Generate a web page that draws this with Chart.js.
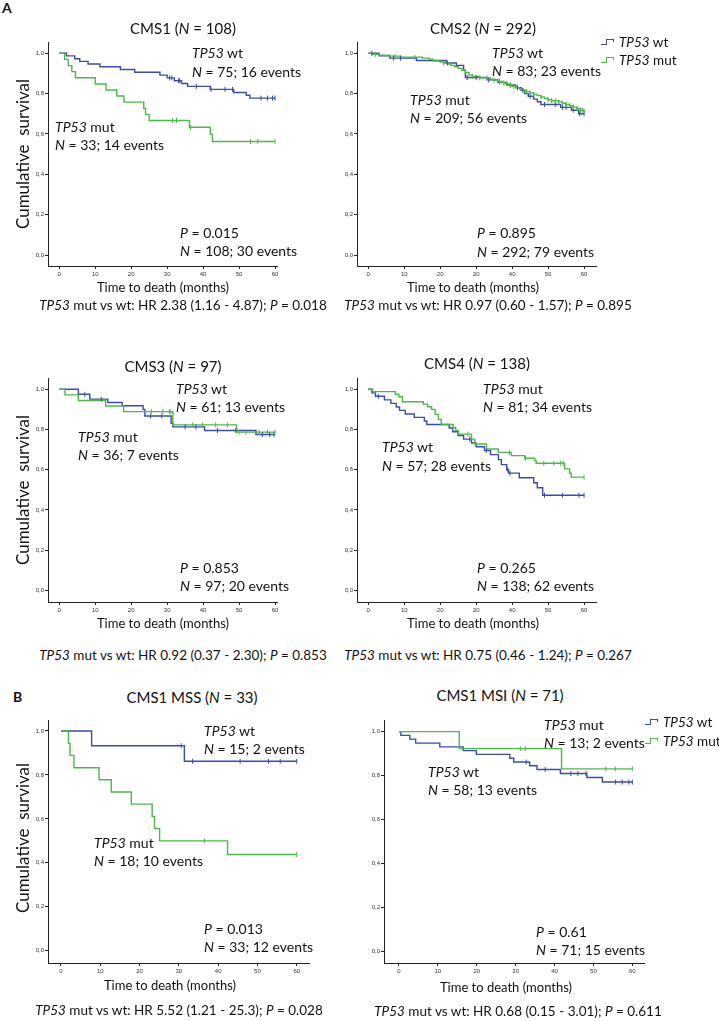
<!DOCTYPE html>
<html><head><meta charset="utf-8">
<script src="https://cdn.jsdelivr.net/npm/chart.js@4.4.1/dist/chart.umd.min.js"></script>
<style>
body{margin:0;background:#fff;}
#page{position:relative;width:719px;height:1021px;overflow:hidden;background:#fff;font-family:Lato,'Noto Sans',sans-serif;color:#111;}
canvas{position:absolute;}
.t{position:absolute;white-space:nowrap;line-height:1;}
.lm{transform:translateY(-50%);}
.cm{transform:translate(-50%,-50%);}
.rot{transform:translate(-50%,-50%) rotate(-90deg);}
.sym{position:absolute;width:14px;height:8px;}
.sym span{position:absolute;border-color:inherit;border-style:solid;border-width:0;}
</style>
</head><body><div id="page"></div>
<script>
// ---------- data ----------
const xTicks = [0,10,20,30,40,50,60];
const xTickLabels = ['0','10','20','30','40','50','60'];
const yTicks = [0,0.2,0.4,0.6,0.8,1.0];
const yTickLabels = ['0,0','0,2','0,4','0,6','0,8','1,0'];

// CMS1
const cms1WtTime  = [0,2,4.3,5.7,8,11.3,17,21,28,30,32,34,35.7,42,48.5,52,53,60];
const cms1WtSurv  = [1,.987,.973,.96,.947,.933,.92,.906,.892,.878,.864,.85,.836,.821,.806,.792,.778,.778];
const cms1WtCens  = [30.7,31.3,33.2,33.5,38.1,42.2,46.1,48.2,56.1,57.9,59.3,60];
const cms1MutTime = [0,1.5,2.5,3.5,4.5,10,13,16,18,23.5,24,25,36.2,42,42.6,60];
const cms1MutSurv = [1,.97,.939,.909,.879,.848,.818,.788,.758,.727,.697,.667,.633,.598,.563,.563];
const cms1MutCens = [31.5,32.6,36.5,53.2,55.2,60];
// CMS2
const cms2WtTime  = [0,3,6,13.4,21.7,24.5,26.5,27,33,36,38.5,41,42.5,43.5,44.5,46,47,48,53.5,56.5,58.5,60];
const cms2WtSurv  = [1,.988,.976,.964,.952,.94,.916,.88,.868,.856,.843,.83,.816,.80,.787,.773,.76,.746,.732,.718,.70,.70];
const cms2WtCens  = [1,7,9,22,27.5,30,33.5,36.5,39.5,41.5,43,45,49,52,54,55,57,58.8,60];
const cms2MutTime = [0,1,3,6,9,15,17,18,20,21,22,23,24,25,26,27,28,29,31,34,35,36,37,38,39,40,41,42,43,44,45,46,47,48,49,50,51,53,54,55,56,57,58,59,60];
const cms2MutSurv = [1,.995,.99,.986,.981,.976,.971,.962,.957,.952,.947,.94,.933,.925,.916,.905,.892,.885,.878,.872,.866,.86,.855,.849,.843,.836,.83,.823,.817,.81,.803,.796,.79,.783,.776,.77,.765,.759,.752,.746,.74,.733,.726,.718,.711];
const cms2MutCens = [2,7.5,13,21,29,31,33,35,36.5,37.5,38.5,39.5,40.5,44,46,48,50,51,52,53,54,55,56,57,58,59,59.5,60];
// CMS3
const cms3WtTime  = [0,5.3,8.5,13.5,17.5,23.3,23.8,31.1,31.6,40.4,54.7,60];
const cms3WtSurv  = [1,.975,.951,.934,.918,.9,.867,.831,.813,.795,.775,.775];
const cms3WtCens  = [7.1,11.7,25.4,28.5,35,38,44,49.1,56.5,58.5,59.7];
const cms3MutTime = [0,1.6,5.3,12.9,17.9,31.6,49.3,60];
const cms3MutSurv = [1,.972,.944,.917,.889,.823,.787,.787];
const cms3MutCens = [25.6,28.8,30.6,31,37.1,39.8,43.5,46.8,50,51.9,55.6,57.9,60];
// CMS4
const cms4WtTime  = [0,1,2,4.5,6.3,7.8,8.7,10.3,12.8,15.6,16.3,22.5,23.5,25,26.5,28.7,30,32.3,34,36.2,37,38.5,39,42,46,47,48.5,60];
const cms4WtSurv  = [1,.982,.965,.947,.93,.912,.895,.877,.86,.842,.825,.807,.789,.77,.752,.733,.714,.695,.675,.65,.625,.6,.583,.56,.535,.51,.473,.473];
const cms4WtCens  = [2.8,28.2,32.8,38.8,39.4,49,54,58.6,60];
const cms4MutTime = [0,1.2,7.5,8.5,9.5,15.3,16.5,17.6,18.6,19.5,20.3,23.6,24.3,25,28.7,29.6,32.9,36.1,39.8,43.5,46.3,46.7,54.6,56,56.4,60];
const cms4MutSurv = [1,.988,.975,.963,.938,.926,.913,.9,.875,.85,.825,.81,.795,.777,.752,.728,.703,.686,.67,.657,.645,.632,.604,.582,.563,.563];
const cms4MutCens = [27.7,39.3,43.7,48.8,51.6,53.5,54.2,60];
// CMS1 MSS
const mssWtTime  = [0,7.8,31.4,60];
const mssWtSurv  = [1,.933,.862,.862];
const mssWtCens  = [30.6,33.5,45.6,52.8,55.8,60];
const mssMutTime = [0,1.9,2.3,3.3,9.7,12.8,17.9,23.2,23.8,25.1,42.4,60];
const mssMutSurv = [1,.944,.889,.833,.778,.722,.667,.611,.556,.5,.4375,.4375];
const mssMutCens = [36.5,60];
// CMS1 MSI
const msiWtTime  = [0,0.5,2.8,4.3,10.5,16.5,19.9,28.5,29.5,33.6,35.5,41.5,48.3,52.3,60];
const msiWtSurv  = [1,.983,.966,.948,.931,.914,.897,.879,.862,.845,.828,.81,.792,.771,.771];
const msiWtCens  = [32.7,37.6,44.2,46,48.1,55.7,57.4,59.1,60];
const msiMutTime = [0,15.5,41.8,60];
const msiMutSurv = [1,.923,.831,.831];
const msiMutCens = [31.2,32.5,53.2,55.6,60];

// ---------- layout ----------
const BLUE = '#3b4ca8', GREEN = '#4db84a';
const YW = 40, PT = 6, PR = 4, XH = 22;
const panels = [
  {area:[48,42,278,266],  xr:[-3.13,60.55], yr:[-0.0545,1.056], wt:[cms1WtTime,cms1WtSurv,cms1WtCens], mut:[cms1MutTime,cms1MutSurv,cms1MutCens]},
  {area:[357,42,597,266], xr:[-3.13,63.32], yr:[-0.0545,1.056], wt:[cms2WtTime,cms2WtSurv,cms2WtCens], mut:[cms2MutTime,cms2MutSurv,cms2MutCens]},
  {area:[48,378,278,602], xr:[-3.13,60.55], yr:[-0.058,1.056],  wt:[cms3WtTime,cms3WtSurv,cms3WtCens], mut:[cms3MutTime,cms3MutSurv,cms3MutCens]},
  {area:[357,378,597,602],xr:[-3.13,63.32], yr:[-0.058,1.056],  wt:[cms4WtTime,cms4WtSurv,cms4WtCens], mut:[cms4MutTime,cms4MutSurv,cms4MutCens]},
  {area:[48,720,310,963], xr:[-3.3,63.12],  yr:[-0.056,1.05],   wt:[mssWtTime,mssWtSurv,mssWtCens],   mut:[mssMutTime,mssMutSurv,mssMutCens]},
  {area:[384,720,645,963],xr:[-3.84,63.0],  yr:[-0.051,1.053],  wt:[msiWtTime,msiWtSurv,msiWtCens],   mut:[msiMutTime,msiMutSurv,msiMutCens]}
];

const page = document.getElementById('page');
function km(times, surv){ return times.map((t,i)=>({x:t,y:surv[i]})); }
function survAt(times, surv, t){ let s = surv[0]; for (let i=0;i<times.length;i++){ if (times[i] <= t) s = surv[i]; } return s; }
function cens(series){ const [t,s,c] = series; return c.map(x=>({x:x, y:survAt(t,s,x)})); }

function build(p){
  const [l,t,r,b] = p.area;
  const W = r-l+YW+PR, H = b-t+PT+XH;
  const cv = document.createElement('canvas');
  cv.width = W; cv.height = H;
  cv.style.left = (l-YW)+'px'; cv.style.top = (t-PT)+'px';
  cv.style.width = W+'px'; cv.style.height = H+'px';
  page.appendChild(cv);
  const tickFont = {size:6, family:'Liberation Sans'};
  new Chart(cv, {
    type:'line',
    data:{datasets:[
      {data:km(p.mut[0],p.mut[1]), borderColor:GREEN, borderWidth:1.4, stepped:'before', pointRadius:0, fill:false, order:2},
      {data:cens(p.mut), showLine:false, pointStyle:'line', rotation:90, pointRadius:2.5, borderColor:GREEN, borderWidth:1, order:1},
      {data:km(p.wt[0],p.wt[1]), borderColor:BLUE, borderWidth:1.4, stepped:'before', pointRadius:0, fill:false, order:3},
      {data:cens(p.wt), showLine:false, pointStyle:'line', rotation:90, pointRadius:2.5, borderColor:BLUE, borderWidth:1, order:1}
    ]},
    options:{
      responsive:false, animation:false, devicePixelRatio:1,
      layout:{padding:{left:0, top:PT, right:PR, bottom:0}},
      plugins:{legend:{display:false}, tooltip:{enabled:false}, title:{display:false}},
      scales:{
        x:{type:'linear', min:p.xr[0], max:p.xr[1],
           afterBuildTicks:s=>{ s.ticks = xTicks.map(v=>({value:v})); },
           afterFit:s=>{ s.height = XH; },
           ticks:{font:tickFont, color:'#333', padding:2, maxRotation:0, autoSkip:false, callback:(v,i)=>xTickLabels[i]},
           grid:{drawOnChartArea:false, drawTicks:true, tickLength:3, color:'#222', lineWidth:1},
           border:{display:true, color:'#222', width:1}},
        y:{type:'linear', min:p.yr[0], max:p.yr[1],
           afterBuildTicks:s=>{ s.ticks = yTicks.map(v=>({value:v})); },
           afterFit:s=>{ s.width = YW; },
           ticks:{font:tickFont, color:'#333', padding:1, autoSkip:false, callback:(v,i)=>yTickLabels[i]},
           grid:{drawOnChartArea:false, drawTicks:true, tickLength:3, color:'#222', lineWidth:1},
           border:{display:true, color:'#222', width:1}}
      }
    }
  });
}
panels.forEach(build);

// ---------- texts ----------
function txt(html, x, y, cls, size, extra){
  const d = document.createElement('div');
  d.className = 't ' + cls;
  d.innerHTML = html;
  d.style.left = x+'px'; d.style.top = y+'px'; d.style.fontSize = size+'px';
  if (extra) Object.assign(d.style, extra);
  page.appendChild(d);
}
const I = s => '<i>'+s+'</i>';
txt('A', 2, 8, 'lm', 14, {fontWeight:'bold'});
txt('B', 13, 697, 'lm', 14, {fontWeight:'bold'});

const titles = [
  ['CMS1 ('+I('N')+' = 108)',183,28],['CMS2 ('+I('N')+' = 292)',483,28],
  ['CMS3 ('+I('N')+' = 97)',173,366],['CMS4 ('+I('N')+' = 138)',477,363],
  ['CMS1 MSS ('+I('N')+' = 33)',192,697],['CMS1 MSI ('+I('N')+' = 71)',500,695]];
titles.forEach(a=>txt(a[0],a[1],a[2],'cm',15));

const xTitles = [[163,287],[473,287],[163,623],[473,623],[170,985],[506,987]];
xTitles.forEach(a=>txt('Time to death (months)',a[0],a[1],'cm',13));
const yTitles = [[22,154],[22,490],[22,838]];
yTitles.forEach(a=>txt('Cumulative&nbsp; survival',a[0],a[1],'rot',17));

const notes = [
  [I('TP53')+' wt',192,53],['<i>N</i> = 75; 16 events',192,72],[I('TP53')+' mut',55,127],['<i>N</i> = 33; 14 events',55,145],
  ['<i>P</i> = 0.015',180,233],['<i>N</i> = 108; 30 events',180,251],
  [I('TP53')+' wt',492,53],['<i>N</i> = 83; 23 events',492,71],[I('TP53')+' mut',410,100],['<i>N</i> = 209; 56 events',410,118],
  ['<i>P</i> = 0.895',477,233],['<i>N</i> = 292; 79 events',477,252],
  [I('TP53')+' wt',176,389],['<i>N</i> = 61; 13 events',176,407],[I('TP53')+' mut',78,437],['<i>N</i> = 36; 7 events',78,455],
  ['<i>P</i> = 0.853',180,568],['<i>N</i> = 97; 20 events',180,586],
  [I('TP53')+' mut',483,389],['<i>N</i> = 81; 34 events',483,407],[I('TP53')+' wt',382,447],['<i>N</i> = 57; 28 events',382,466],
  ['<i>P</i> = 0.265',477,568],['<i>N</i> = 138; 62 events',477,586],
  [I('TP53')+' wt',204,731],['<i>N</i> = 15; 2 events',204,749],[I('TP53')+' mut',94,843],['<i>N</i> = 18; 10 events',94,861],
  ['<i>P</i> = 0.013',204,929],['<i>N</i> = 33; 12 events',204,947],
  [I('TP53')+' mut',544,725],['<i>N</i> = 13; 2 events',544,743],[I('TP53')+' wt',428,772],['<i>N</i> = 58; 13 events',428,790],
  ['<i>P</i> = 0.61',536,932],['<i>N</i> = 71; 15 events',536,950]];
notes.forEach(a=>txt(a[0],a[1],a[2],'lm',14));

const hr = [
  [I('TP53')+' mut vs wt: HR 2.38 (1.16 - 4.87); '+I('P')+' = 0.018',183,306],
  [I('TP53')+' mut vs wt: HR 0.97 (0.60 - 1.57); '+I('P')+' = 0.895',488,306],
  [I('TP53')+' mut vs wt: HR 0.92 (0.37 - 2.30); '+I('P')+' = 0.853',183,656],
  [I('TP53')+' mut vs wt: HR 0.75 (0.46 - 1.24); '+I('P')+' = 0.267',488,656],
  [I('TP53')+' mut vs wt: HR 5.52 (1.21 - 25.3); '+I('P')+' = 0.028',179,1011],
  [I('TP53')+' mut vs wt: HR 0.68 (0.15 - 3.01); '+I('P')+' = 0.611',518,1012]];
hr.forEach(a=>txt(a[0],a[1],a[2],'cm',13.5));

// legends
function legend(x, y, color, label){
  const s = document.createElement('div');
  s.className = 'sym'; s.style.left = x+'px'; s.style.top = (y-5)+'px'; s.style.borderColor = color;
  s.innerHTML = '<span style="left:0;top:6px;width:5px;border-top-width:1.5px"></span>'+
                '<span style="left:5px;top:1px;height:6px;border-left-width:1.5px"></span>'+
                '<span style="left:5px;top:1px;width:7px;border-top-width:1.5px"></span>'+
                '<span style="left:12px;top:1px;height:3px;border-left-width:1.5px"></span>';
  page.appendChild(s);
  txt(label, x+18, y, 'lm', 13.5);
}
legend(601,43,BLUE,I('TP53')+' wt'); legend(601,61,GREEN,I('TP53')+' mut');
legend(645,723,BLUE,I('TP53')+' wt'); legend(645,742,GREEN,I('TP53')+' mut');
</script>
</body></html>
